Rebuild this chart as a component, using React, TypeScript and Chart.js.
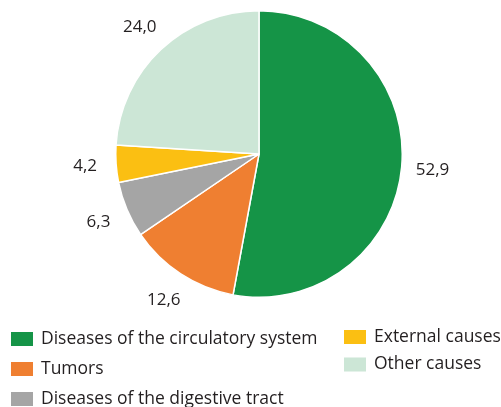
import React, { useEffect, useRef } from "react";
import { Chart, registerables } from "chart.js";

Chart.register(...registerables);

const categories = [
  "Diseases of the circulatory system",
  "Tumors",
  "Diseases of the digestive tract",
  "External causes",
  "Other causes",
];
const values = [52.9, 12.6, 6.3, 4.2, 24.0];
const valueLabels = ["52,9", "12,6", "6,3", "4,2", "24,0"];
const colors = ["#159447", "#EF7F31", "#A5A5A5", "#FBBF12", "#CCE6D6"];

const FONT = "'Open Sans', sans-serif";
const TEXT = "#231F20";

// legend layout: [x of swatch, y center]
const legendSlots: [number, number][] = [
  [11, 339],
  [11, 369],
  [11, 399],
  [344, 337],
  [344, 364.5],
];

const labelPlugin = {
  id: "valueLabels",
  afterDatasetsDraw(chart: any) {
    const ctx = chart.ctx;
    const meta = chart.getDatasetMeta(0);
    ctx.save();
    ctx.fillStyle = TEXT;
    ctx.font = `17px ${FONT}`;
    ctx.textAlign = "center";
    ctx.textBaseline = "middle";
    meta.data.forEach((arc: any, i: number) => {
      const { x, y, startAngle, endAngle, outerRadius } = arc.getProps(
        ["x", "y", "startAngle", "endAngle", "outerRadius"],
        true
      );
      const mid = (startAngle + endAngle) / 2;
      const r = outerRadius + 31;
      ctx.fillText(valueLabels[i], x + Math.cos(mid) * r, y + Math.sin(mid) * r);
    });
    ctx.restore();
  },
  afterDraw(chart: any) {
    const ctx = chart.ctx;
    ctx.save();
    ctx.font = `17.5px ${FONT}`;
    ctx.textBaseline = "middle";
    ctx.textAlign = "left";
    categories.forEach((c, i) => {
      const [sx, sy] = legendSlots[i];
      ctx.fillStyle = colors[i];
      ctx.fillRect(sx, sy - 7, 22, 14);
      ctx.fillStyle = TEXT;
      ctx.fillText(c, sx + 30, sy);
    });
    ctx.restore();
  },
};

export default function App() {
  const ref = useRef<HTMLCanvasElement | null>(null);
  useEffect(() => {
    if (!ref.current) return;
    const chart = new Chart(ref.current, {
      type: "pie",
      data: {
        labels: categories,
        datasets: [
          {
            data: values,
            backgroundColor: colors,
            borderColor: "#ffffff",
            borderWidth: 1.5,
          },
        ],
      },
      options: {
        animation: false,
        responsive: false,
        maintainAspectRatio: false,
        layout: { padding: { left: 115, right: 98, top: 10, bottom: 109 } },
        plugins: {
          legend: { display: false },
          tooltip: { enabled: false },
        },
      },
      plugins: [labelPlugin],
    });
    return () => chart.destroy();
  }, []);
  return (
    <div style={{ position: "fixed", left: 0, top: 0, width: 501, height: 407, background: "#fff" }}>
      <canvas ref={ref} width={501} height={407} style={{ width: 501, height: 407 }} />
    </div>
  );
}
